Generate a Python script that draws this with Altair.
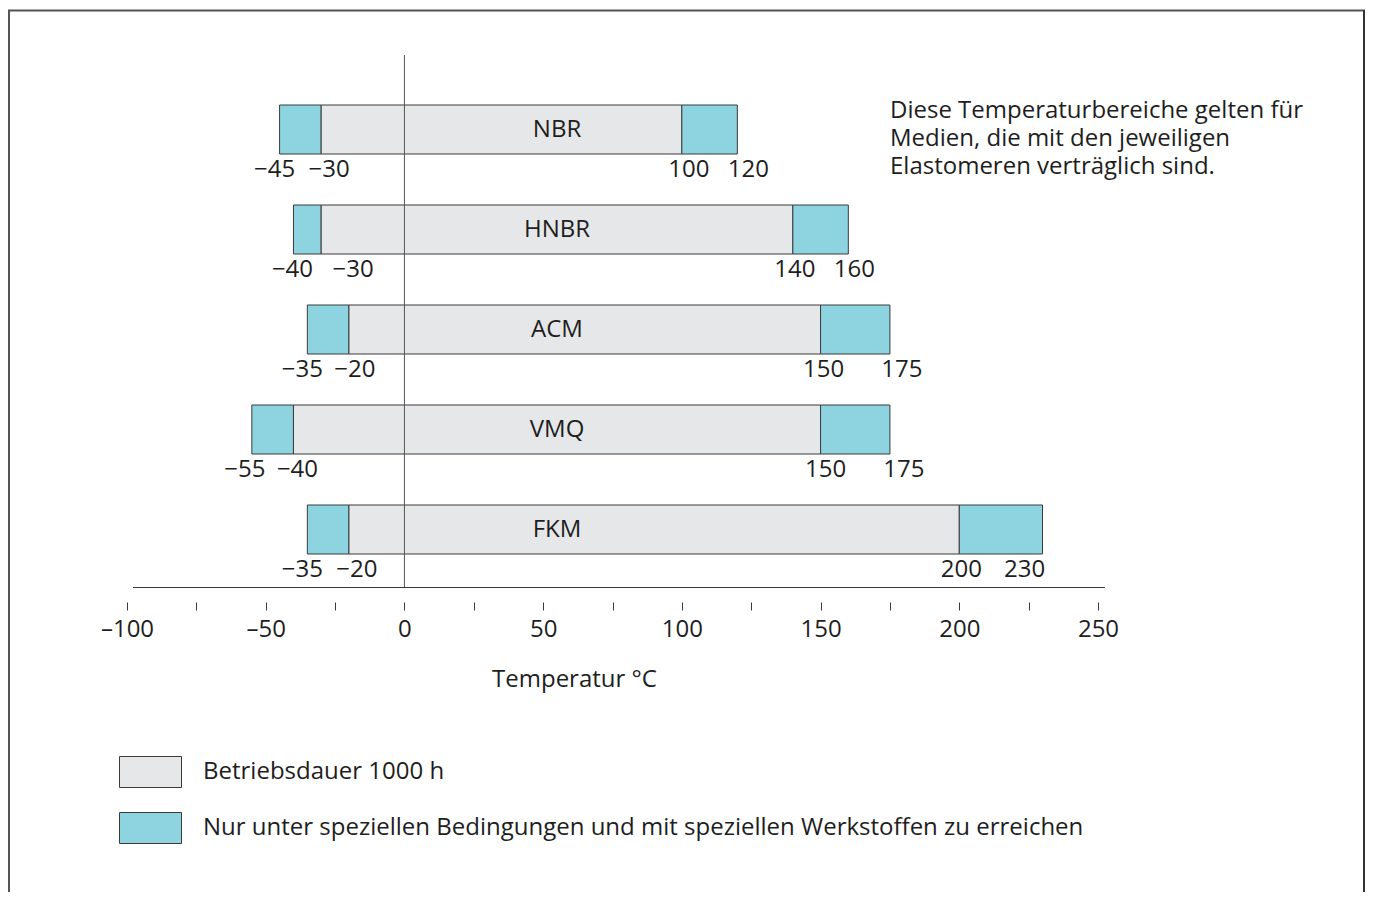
import altair as alt
import pandas as pd

# ---------------- data ----------------
elastomers = ["NBR", "HNBR", "ACM", "VMQ", "FKM"]
special_min = [-45, -40, -35, -55, -35]
normal_min = [-30, -30, -20, -40, -20]
normal_max = [100, 140, 150, 150, 200]
special_max = [120, 160, 175, 175, 230]

legend_labels = [
    "Betriebsdauer 1000 h",
    "Nur unter speziellen Bedingungen und mit speziellen Werkstoffen zu erreichen",
]
axis_ticks = list(range(-100, 251, 25))
axis_title = "Temperatur °C"
note_lines = [
    "Diese Temperaturbereiche gelten für",
    "Medien, die mit den jeweiligen",
    "Elastomeren verträglich sind.",
]

# ---------------- layout / style ----------------
FONT = "Open Sans"
FS = 24
TXT = "#1e1e1e"
STROKE = "#3a3a3a"
GREY = "#e6e7e8"
CYAN = "#8dd4e0"
W, H, PAD_B = 1357, 594, 290
X_RANGE = [119, 1090]
X_DOMAIN = [-100, 250]
PX_PER_UNIT = (X_RANGE[1] - X_RANGE[0]) / (X_DOMAIN[1] - X_DOMAIN[0])
Y_RANGE = [121.5, 521.5]
BAR_HALF = 0.245
NAME_AT = 55
# pixel nudges of the boundary labels (smin, nmin, nmax, smax)
label_nudge = [[-5, 8, 7, 11], [-1, 32, 2, 6], [-5, 6, 3, 12], [-7, 4, 5, 14], [-5, 8, 2, -18]]

seg_rows, lab_rows, name_rows = [], [], []
for i, n in enumerate(elastomers):
    seg_rows.append({"row": i, "start": special_min[i], "end": normal_min[i], "kind": legend_labels[1]})
    seg_rows.append({"row": i, "start": normal_min[i], "end": normal_max[i], "kind": legend_labels[0]})
    seg_rows.append({"row": i, "start": normal_max[i], "end": special_max[i], "kind": legend_labels[1]})
    for v, nd in zip([special_min[i], normal_min[i], normal_max[i], special_max[i]], label_nudge[i]):
        txt = ("\u2212" + str(abs(v))) if v < 0 else str(v)
        lab_rows.append({"row": i, "value": v, "nudge": nd, "txt": txt})
    name_rows.append({"row": i, "name": n})

seg_df = pd.DataFrame(seg_rows)
lab_df = pd.DataFrame(lab_rows)
name_df = pd.DataFrame(name_rows)

xscale = alt.Scale(domain=X_DOMAIN, range=X_RANGE, nice=False, zero=False)
yscale = alt.Scale(domain=[0, 4], range=Y_RANGE, nice=False, zero=False)

xaxis = alt.Axis(
    values=axis_ticks,
    labelExpr="datum.value % 50 == 0 ? (datum.value < 0 ? '\u2013' + abs(datum.value) : '' + datum.value) : ''",
    domain=False,
    grid=False,
    ticks=True,
    tickSize=8,
    tickColor=STROKE,
    tickWidth=1,
    labelFont=FONT,
    labelFontSize=FS,
    labelColor=TXT,
    labelPadding=7,
    labelFlush=False,
    labelOverlap=False,
    title=axis_title,
    titleFont=FONT,
    titleFontSize=FS,
    titleFontWeight="normal",
    titleColor=TXT,
    titleX=566,
    titleY=77,
    titleBaseline="middle",
    titleAlign="center",
    titleAnchor="start",
)


def X(field=None, datum=None):
    if datum is not None:
        return alt.X(datum=datum, type="quantitative", scale=xscale, axis=xaxis, title=axis_title)
    return alt.X(field, type="quantitative", scale=xscale, axis=xaxis, title=axis_title)


bars = (
    alt.Chart(seg_df)
    .transform_calculate(y0=f"datum.row - {BAR_HALF}", y1=f"datum.row + {BAR_HALF}")
    .mark_rect(stroke=STROKE, strokeWidth=1)
    .encode(
        x=X("start"),
        x2="end",
        y=alt.Y("y0:Q", scale=yscale, axis=None),
        y2="y1:Q",
        color=alt.Color(
            "kind:N",
            scale=alt.Scale(domain=legend_labels, range=[GREY, CYAN]),
            legend=alt.Legend(
                orient="none",
                legendX=111,
                legendY=748,
                title=None,
                direction="vertical",
                symbolType="M-1,-0.5H1V0.5H-1Z",
                symbolSize=3844,
                symbolStrokeColor=STROKE,
                symbolStrokeWidth=1,
                symbolOpacity=1,
                labelFont=FONT,
                labelFontSize=FS,
                labelColor=TXT,
                labelOffset=21,
                labelLimit=1200,
                clipHeight=32,
                rowPadding=24,
                padding=0,
            ),
        ),
    )
)

names = (
    alt.Chart(name_df)
    .mark_text(font=FONT, fontSize=FS, color=TXT, align="center", baseline="middle")
    .encode(x=X(datum=NAME_AT), y=alt.Y("row:Q", scale=yscale, axis=None), text="name:N")
)

labels = (
    alt.Chart(lab_df)
    .transform_calculate(lx=f"datum.value + datum.nudge / {PX_PER_UNIT}")
    .mark_text(font=FONT, fontSize=FS, color=TXT, align="center", baseline="middle", dy=40)
    .encode(x=X("lx"), y=alt.Y("row:Q", scale=yscale, axis=None), text="txt:N")
)

zero_line = alt.Chart(name_df.head(1)).mark_rule(color="#555555", strokeWidth=1).encode(
    x=X(datum=0), y=alt.value(47), y2=alt.value(579)
)

axis_line = alt.Chart(name_df.head(1)).mark_rule(color=STROKE, strokeWidth=1).encode(
    x=alt.value(125), x2=alt.value(1097), y=alt.value(579.5)
)

frame_l = alt.Chart(name_df.head(1)).mark_rule(color="#555555", strokeWidth=2).encode(
    x=alt.value(1), y=alt.value(2), y2=alt.value(900)
)
frame_t = alt.Chart(name_df.head(1)).mark_rule(color="#555555", strokeWidth=2).encode(
    x=alt.value(0), x2=alt.value(1357), y=alt.value(2.5)
)
frame_r = alt.Chart(name_df.head(1)).mark_rule(color="#333333", strokeWidth=2).encode(
    x=alt.value(1356), y=alt.value(2), y2=alt.value(900)
)

note = alt.Chart(name_df.head(1)).mark_text(
    font=FONT, fontSize=FS, color=TXT, align="left", baseline="middle", lineHeight=28
).encode(x=alt.value(882), y=alt.value(103), text=alt.value(note_lines))

chart = (
    alt.layer(bars, zero_line, names, labels, axis_line, note, frame_l, frame_t, frame_r)
    .properties(
        width=W,
        height=H,
        padding={"left": 0, "top": 0, "right": 0, "bottom": PAD_B},
        autosize=alt.AutoSizeParams(type="none"),
        background="white",
    )
    .configure_view(stroke=None)
)

chart.save("out.html", embed_options={"renderer": "svg", "actions": False})
